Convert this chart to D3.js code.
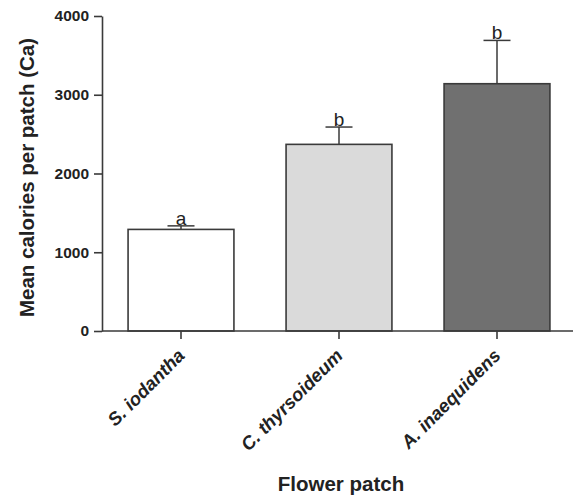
<!DOCTYPE html>
<html>
<head>
<meta charset="utf-8">
<script src="https://cdn.jsdelivr.net/npm/d3@7"></script>
<style>
  html, body { margin: 0; padding: 0; background: #fff; }
  svg { display: block; }
</style>
</head>
<body>
<svg id="chart" width="573" height="496"></svg>
<script>
// Flower patch data: mean calories with upper error and significance group
const patches = ["S. iodantha", "C. thyrsoideum", "A. inaequidens"];
const meanCalories = [1290, 2370, 3140];
const errorTop = [1335, 2590, 3690];
const groupLetters = ["a", "b", "b"];
const barColors = ["#ffffff", "#dadada", "#707070"];
const yTicks = [0, 1000, 2000, 3000, 4000];

const svg = d3.select("#chart");
const ink = "#3a3a3a";
const font = "Liberation Sans, Arial, sans-serif";
const plotLeft = 102, plotRight = 576, plotTop = 16, plotBottom = 331;

const x = d3.scaleBand()
  .domain(patches)
  .range([plotLeft, plotRight])
  .paddingInner(0.33)
  .paddingOuter(0.165);

const y = d3.scaleLinear().domain([0, 4000]).range([plotBottom, plotTop]);

// Bars
svg.append("g").selectAll("rect")
  .data(patches)
  .join("rect")
  .attr("x", d => x(d))
  .attr("y", (d, i) => y(meanCalories[i]))
  .attr("width", x.bandwidth())
  .attr("height", (d, i) => y(0) - y(meanCalories[i]))
  .attr("fill", (d, i) => barColors[i])
  .attr("stroke", ink)
  .attr("stroke-width", 1.6);

// Error bars (upper only)
const capHalf = 13.5;
const eb = svg.append("g").attr("stroke", ink).attr("stroke-width", 1.5);
patches.forEach((p, i) => {
  const cx = x(p) + x.bandwidth() / 2;
  eb.append("line")
    .attr("x1", cx).attr("x2", cx)
    .attr("y1", y(meanCalories[i])).attr("y2", y(errorTop[i]));
  eb.append("line")
    .attr("x1", cx - capHalf).attr("x2", cx + capHalf)
    .attr("y1", y(errorTop[i])).attr("y2", y(errorTop[i]));
});

// Significance letters
svg.append("g").selectAll("text")
  .data(patches)
  .join("text")
  .attr("x", d => x(d) + x.bandwidth() / 2)
  .attr("y", (d, i) => y(errorTop[i]) - 1)
  .attr("text-anchor", "middle")
  .attr("font-family", font)
  .attr("font-size", 19)
  .attr("fill", "#222")
  .text((d, i) => groupLetters[i]);

// Y axis
const yAxis = svg.append("g")
  .attr("transform", `translate(${plotLeft},0)`)
  .call(d3.axisLeft(y).tickValues(yTicks).tickFormat(d3.format("d"))
    .tickSize(8).tickPadding(5).tickSizeOuter(0));
yAxis.select(".domain").attr("stroke", ink).attr("stroke-width", 1.6);
yAxis.selectAll(".tick line").attr("stroke", ink).attr("stroke-width", 1.6);
yAxis.selectAll(".tick text")
  .attr("font-family", font)
  .attr("font-weight", "bold")
  .attr("font-size", 15.5)
  .attr("fill", "#222");

// X axis
const xAxis = svg.append("g")
  .attr("transform", `translate(0,${plotBottom})`)
  .call(d3.axisBottom(x).tickSize(8).tickSizeOuter(0));
xAxis.select(".domain").remove();
xAxis.append("line")
  .attr("x1", plotLeft).attr("x2", 573)
  .attr("stroke", ink).attr("stroke-width", 1.6);
xAxis.selectAll(".tick line").attr("stroke", ink).attr("stroke-width", 1.6);
xAxis.selectAll(".tick text")
  .attr("font-family", font)
  .attr("font-weight", "bold")
  .attr("font-style", "italic")
  .attr("font-size", 18.5)
  .attr("fill", "#222")
  .attr("text-anchor", "end")
  .attr("dy", "0")
  .attr("transform", "translate(-3,18) rotate(-45)");

// Axis titles
svg.append("text")
  .attr("transform", `translate(34,${(plotTop + plotBottom) / 2 + 4}) rotate(-90)`)
  .attr("text-anchor", "middle")
  .attr("font-family", font)
  .attr("font-weight", "bold")
  .attr("font-size", 20.5)
  .attr("fill", "#222")
  .text("Mean calories per patch (Ca)");

svg.append("text")
  .attr("x", 341)
  .attr("y", 491)
  .attr("text-anchor", "middle")
  .attr("font-family", font)
  .attr("font-weight", "bold")
  .attr("font-size", 20.5)
  .attr("fill", "#222")
  .text("Flower patch");
</script>
</body>
</html>
